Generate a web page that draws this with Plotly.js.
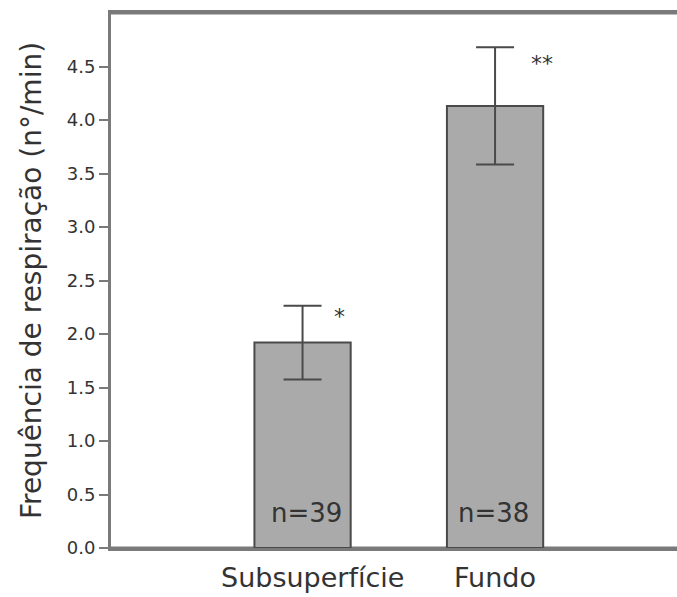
<!DOCTYPE html>
<html>
<head>
<meta charset="utf-8">
<script src="https://cdn.plot.ly/plotly-3.0.1.min.js"></script>
<style>html,body{margin:0;padding:0;background:#fff;overflow:hidden;}#chart{width:677px;height:597px;}</style>
</head>
<body>
<div id="chart"></div>
<script>
const categories = ["Subsuperfície", "Fundo"];
const meanValues = [1.92, 4.13];
const errorPlus = [0.345, 0.55];
const errorMinus = [0.345, 0.545];
const sampleLabels = ["n=39", "n=38"];
const starLabels = ["*", "**"];
const yTickValues = [0, 0.5, 1, 1.5, 2, 2.5, 3, 3.5, 4, 4.5];
const yTickText = ["0.0", "0.5", "1.0", "1.5", "2.0", "2.5", "3.0", "3.5", "4.0", "4.5"];

const font = "DejaVu Sans, sans-serif";
const textColor = "#333333";
const frameColor = "#7a7a7a";

const trace = {
  type: "bar",
  x: categories,
  y: meanValues,
  width: 0.5,
  marker: {color: "#aaaaaa", line: {color: "#4a4a4a", width: 2}},
  error_y: {type: "data", symmetric: false, array: errorPlus, arrayminus: errorMinus,
            color: "#4a4a4a", thickness: 2, width: 19},
  hoverinfo: "none"
};

const annotations = [];
categories.forEach((c, i) => {
  annotations.push({x: c, y: 0, xref: "x", yref: "paper", text: c, showarrow: false,
    yanchor: "top", yshift: -12, xshift: i === 0 ? 10 : 0,
    font: {family: font, size: 27, color: textColor}});
  annotations.push({x: c, y: 0, xref: "x", yref: "y", text: sampleLabels[i], showarrow: false,
    yanchor: "bottom", yshift: 18, xshift: i === 0 ? 4 : -2,
    font: {family: font, size: 26, color: textColor}});
  annotations.push({x: c, y: meanValues[i] + errorPlus[i], xref: "x", yref: "y", text: starLabels[i], showarrow: false,
    xanchor: "center", yanchor: "middle", xshift: i === 0 ? 37 : 47, yshift: i === 0 ? -11 : -16,
    font: {family: font, size: 22, color: textColor}});
});

const layout = {
  width: 677, height: 597,
  margin: {l: 111, r: 0, t: 13, b: 49, pad: 0, autoexpand: false},
  paper_bgcolor: "#ffffff", plot_bgcolor: "#ffffff",
  showlegend: false,
  xaxis: {
    type: "category", range: [-0.995, 1.945],
    showline: true, linecolor: frameColor, linewidth: 3, mirror: true,
    showgrid: false, zeroline: false, ticks: "", showticklabels: false,
    automargin: false
  },
  yaxis: {
    range: [0, 5.0],
    tickvals: yTickValues, ticktext: yTickText,
    showline: true, linecolor: frameColor, linewidth: 3,
    showgrid: false, zeroline: false,
    ticks: "outside", ticklen: 9, tickwidth: 2, tickcolor: frameColor,
    tickfont: {family: font, size: 18, color: textColor},
    automargin: false,
    title: {text: "Frequência de respiração (n°/min)", standoff: 17,
            font: {family: font, size: 28, color: textColor}}
  },
  // frame lines carried to the right edge of the picture
  shapes: [
    {type: "line", xref: "paper", yref: "paper", x0: 0, x1: 1.02, y0: 1, y1: 1, layer: "below",
     line: {color: frameColor, width: 3}},
    {type: "line", xref: "paper", yref: "paper", x0: 0, x1: 1.02, y0: 0, y1: 0, layer: "below",
     line: {color: frameColor, width: 3}}
  ],
  annotations: annotations
};

Plotly.newPlot("chart", [trace], layout, {displayModeBar: false, staticPlot: true});
</script>
</body>
</html>
